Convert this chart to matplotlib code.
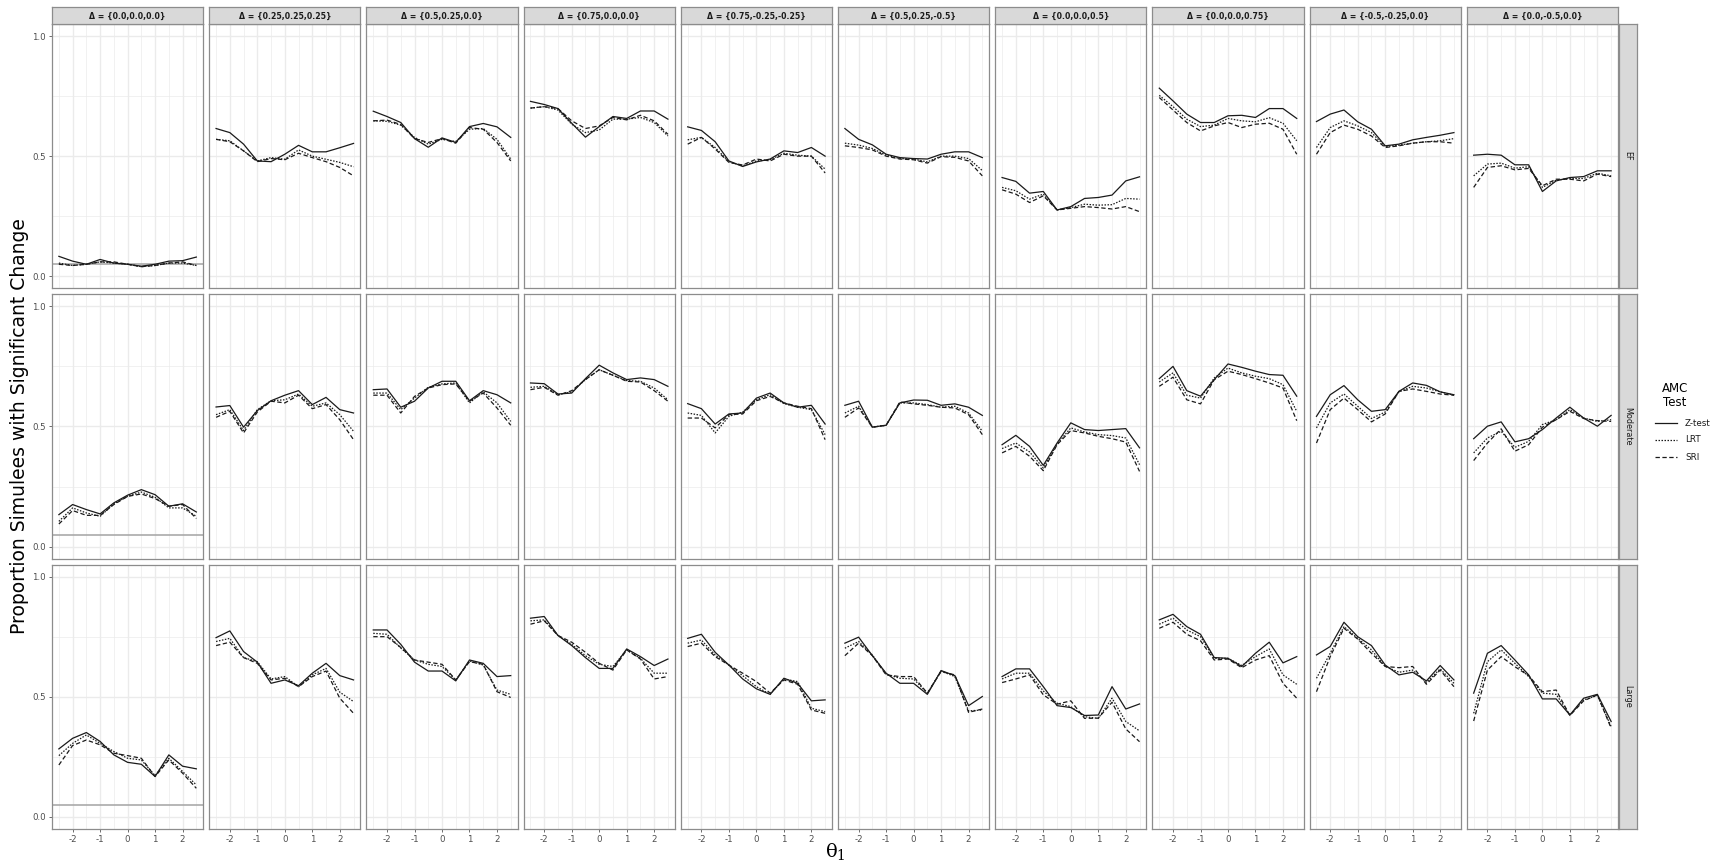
import matplotlib
matplotlib.use("Agg")
import matplotlib.pyplot as plt
from matplotlib.lines import Line2D

theta = [-2.5, -2.0, -1.5, -1.0, -0.5, 0.0, 0.5, 1.0, 1.5, 2.0, 2.5]
delta_labels = ["{0.0,0.0,0.0}", "{0.25,0.25,0.25}", "{0.5,0.25,0.0}", "{0.75,0.0,0.0}",
                "{0.75,-0.25,-0.25}", "{0.5,0.25,-0.5}", "{0.0,0.0,0.5}", "{0.0,0.0,0.75}",
                "{-0.5,-0.25,0.0}", "{0.0,-0.5,0.0}"]
row_labels = ["EF", "Moderate", "Large"]
tests = ["Z-test", "LRT", "SRI"]
alpha_level = 0.05

# ---- EF row ----
ef_z = [
    [0.083, 0.063, 0.05, 0.07, 0.055, 0.05, 0.042, 0.05, 0.063, 0.065, 0.08],
    [0.615, 0.598, 0.55, 0.48, 0.477, 0.508, 0.545, 0.518, 0.518, 0.535, 0.553],
    [0.687, 0.665, 0.64, 0.573, 0.537, 0.576, 0.557, 0.623, 0.636, 0.622, 0.578],
    [0.728, 0.715, 0.698, 0.637, 0.579, 0.623, 0.665, 0.657, 0.688, 0.688, 0.654],
    [0.622, 0.607, 0.56, 0.48, 0.457, 0.476, 0.488, 0.522, 0.515, 0.536, 0.50],
    [0.615, 0.57, 0.547, 0.508, 0.494, 0.49, 0.488, 0.508, 0.518, 0.518, 0.494],
    [0.411, 0.395, 0.346, 0.353, 0.276, 0.29, 0.324, 0.328, 0.338, 0.397, 0.414],
    [0.783, 0.73, 0.675, 0.64, 0.64, 0.668, 0.67, 0.661, 0.698, 0.698, 0.657],
    [0.644, 0.675, 0.692, 0.643, 0.612, 0.543, 0.55, 0.568, 0.578, 0.587, 0.598],
    [0.504, 0.508, 0.504, 0.464, 0.464, 0.353, 0.397, 0.411, 0.415, 0.439, 0.439],
]
ef_lrt = [
    [0.055, 0.045, 0.05, 0.06, 0.055, 0.05, 0.04, 0.045, 0.055, 0.055, 0.045],
    [0.57, 0.564, 0.522, 0.48, 0.494, 0.487, 0.526, 0.50, 0.487, 0.474, 0.456],
    [0.647, 0.645, 0.629, 0.578, 0.55, 0.57, 0.561, 0.612, 0.615, 0.57, 0.488],
    [0.70, 0.706, 0.692, 0.633, 0.598, 0.609, 0.654, 0.654, 0.661, 0.64, 0.584],
    [0.568, 0.578, 0.536, 0.477, 0.46, 0.48, 0.485, 0.512, 0.504, 0.50, 0.446],
    [0.554, 0.546, 0.532, 0.504, 0.49, 0.488, 0.476, 0.50, 0.50, 0.49, 0.44],
    [0.37, 0.356, 0.321, 0.342, 0.276, 0.286, 0.30, 0.296, 0.298, 0.324, 0.321],
    [0.753, 0.706, 0.654, 0.623, 0.629, 0.657, 0.647, 0.643, 0.66, 0.637, 0.564],
    [0.536, 0.619, 0.647, 0.626, 0.598, 0.54, 0.546, 0.554, 0.56, 0.564, 0.573],
    [0.418, 0.467, 0.471, 0.45, 0.456, 0.37, 0.40, 0.407, 0.407, 0.429, 0.418],
]
ef_sri = [
    [0.05, 0.045, 0.05, 0.06, 0.06, 0.05, 0.04, 0.045, 0.055, 0.06, 0.045],
    [0.57, 0.56, 0.522, 0.477, 0.49, 0.485, 0.512, 0.494, 0.477, 0.453, 0.418],
    [0.647, 0.65, 0.632, 0.573, 0.557, 0.573, 0.554, 0.619, 0.612, 0.557, 0.48],
    [0.70, 0.706, 0.698, 0.647, 0.615, 0.626, 0.661, 0.651, 0.67, 0.647, 0.591],
    [0.55, 0.578, 0.53, 0.474, 0.463, 0.488, 0.48, 0.508, 0.50, 0.50, 0.43],
    [0.543, 0.536, 0.526, 0.50, 0.488, 0.485, 0.471, 0.498, 0.495, 0.48, 0.418],
    [0.36, 0.342, 0.307, 0.335, 0.276, 0.283, 0.29, 0.286, 0.28, 0.29, 0.269],
    [0.744, 0.692, 0.64, 0.605, 0.626, 0.64, 0.619, 0.633, 0.637, 0.612, 0.508],
    [0.508, 0.598, 0.629, 0.612, 0.584, 0.536, 0.543, 0.554, 0.56, 0.56, 0.554],
    [0.37, 0.453, 0.46, 0.443, 0.449, 0.377, 0.404, 0.404, 0.397, 0.425, 0.415],
]

# ---- Moderate row ----
mod_z = [
    [0.133, 0.175, 0.154, 0.136, 0.182, 0.214, 0.237, 0.216, 0.168, 0.178, 0.144],
    [0.581, 0.587, 0.497, 0.566, 0.607, 0.63, 0.649, 0.591, 0.621, 0.57, 0.556],
    [0.653, 0.656, 0.58, 0.605, 0.66, 0.688, 0.688, 0.607, 0.649, 0.632, 0.598],
    [0.681, 0.678, 0.635, 0.639, 0.699, 0.755, 0.723, 0.695, 0.702, 0.695, 0.667],
    [0.595, 0.574, 0.51, 0.552, 0.556, 0.618, 0.639, 0.598, 0.58, 0.588, 0.51],
    [0.588, 0.605, 0.497, 0.505, 0.598, 0.61, 0.609, 0.588, 0.594, 0.58, 0.546],
    [0.424, 0.463, 0.417, 0.338, 0.431, 0.515, 0.487, 0.483, 0.487, 0.491, 0.411],
    [0.699, 0.75, 0.649, 0.626, 0.695, 0.76, 0.746, 0.73, 0.716, 0.713, 0.626],
    [0.542, 0.632, 0.67, 0.611, 0.563, 0.57, 0.646, 0.681, 0.671, 0.644, 0.632],
    [0.449, 0.501, 0.519, 0.436, 0.449, 0.487, 0.535, 0.58, 0.535, 0.501, 0.546],
]
mod_lrt = [
    [0.105, 0.161, 0.14, 0.126, 0.178, 0.209, 0.227, 0.205, 0.161, 0.161, 0.126],
    [0.549, 0.57, 0.483, 0.57, 0.607, 0.611, 0.635, 0.584, 0.598, 0.549, 0.48],
    [0.639, 0.639, 0.57, 0.618, 0.663, 0.677, 0.681, 0.598, 0.644, 0.598, 0.521],
    [0.663, 0.667, 0.632, 0.644, 0.695, 0.736, 0.713, 0.691, 0.688, 0.66, 0.611],
    [0.556, 0.546, 0.473, 0.542, 0.56, 0.611, 0.632, 0.595, 0.58, 0.57, 0.466],
    [0.556, 0.584, 0.497, 0.505, 0.598, 0.598, 0.591, 0.58, 0.584, 0.556, 0.48],
    [0.408, 0.431, 0.394, 0.327, 0.427, 0.494, 0.477, 0.466, 0.462, 0.452, 0.341],
    [0.685, 0.723, 0.63, 0.618, 0.702, 0.743, 0.723, 0.709, 0.699, 0.674, 0.563],
    [0.494, 0.598, 0.635, 0.584, 0.533, 0.56, 0.644, 0.667, 0.66, 0.644, 0.63],
    [0.39, 0.452, 0.48, 0.413, 0.438, 0.508, 0.528, 0.57, 0.535, 0.521, 0.528],
]
mod_sri = [
    [0.094, 0.15, 0.13, 0.13, 0.175, 0.209, 0.219, 0.20, 0.168, 0.175, 0.117],
    [0.538, 0.563, 0.473, 0.56, 0.605, 0.598, 0.63, 0.574, 0.591, 0.528, 0.445],
    [0.63, 0.63, 0.556, 0.625, 0.66, 0.674, 0.677, 0.605, 0.639, 0.577, 0.505],
    [0.653, 0.663, 0.63, 0.649, 0.695, 0.736, 0.713, 0.688, 0.685, 0.649, 0.605],
    [0.535, 0.535, 0.494, 0.549, 0.552, 0.607, 0.625, 0.598, 0.584, 0.574, 0.445],
    [0.538, 0.577, 0.497, 0.505, 0.602, 0.594, 0.588, 0.58, 0.577, 0.549, 0.466],
    [0.39, 0.417, 0.376, 0.316, 0.424, 0.483, 0.473, 0.459, 0.449, 0.435, 0.313],
    [0.667, 0.705, 0.611, 0.594, 0.695, 0.73, 0.716, 0.699, 0.681, 0.66, 0.524],
    [0.431, 0.57, 0.618, 0.57, 0.519, 0.552, 0.646, 0.656, 0.646, 0.635, 0.63],
    [0.358, 0.431, 0.49, 0.397, 0.424, 0.497, 0.528, 0.563, 0.533, 0.524, 0.521],
]

# ---- Large row ----
lg_z = [
    [0.283, 0.327, 0.351, 0.314, 0.258, 0.227, 0.219, 0.168, 0.258, 0.211, 0.20],
    [0.746, 0.774, 0.688, 0.644, 0.556, 0.57, 0.546, 0.598, 0.639, 0.588, 0.57],
    [0.778, 0.778, 0.718, 0.644, 0.607, 0.607, 0.566, 0.653, 0.639, 0.584, 0.588],
    [0.827, 0.834, 0.755, 0.713, 0.663, 0.618, 0.618, 0.699, 0.667, 0.63, 0.657],
    [0.743, 0.76, 0.685, 0.632, 0.574, 0.533, 0.51, 0.577, 0.556, 0.483, 0.487],
    [0.723, 0.748, 0.671, 0.598, 0.556, 0.556, 0.51, 0.609, 0.588, 0.463, 0.501],
    [0.584, 0.616, 0.616, 0.542, 0.463, 0.455, 0.422, 0.424, 0.542, 0.449, 0.47],
    [0.82, 0.843, 0.792, 0.76, 0.663, 0.66, 0.626, 0.681, 0.727, 0.641, 0.667],
    [0.674, 0.709, 0.81, 0.75, 0.713, 0.632, 0.591, 0.602, 0.566, 0.63, 0.57],
    [0.515, 0.681, 0.713, 0.653, 0.591, 0.491, 0.491, 0.424, 0.494, 0.51, 0.397],
]
lg_lrt = [
    [0.255, 0.306, 0.341, 0.306, 0.272, 0.244, 0.237, 0.172, 0.244, 0.189, 0.133],
    [0.73, 0.743, 0.663, 0.646, 0.574, 0.584, 0.542, 0.591, 0.618, 0.519, 0.48],
    [0.764, 0.76, 0.703, 0.653, 0.635, 0.626, 0.57, 0.649, 0.632, 0.528, 0.51],
    [0.816, 0.82, 0.755, 0.718, 0.671, 0.635, 0.626, 0.695, 0.66, 0.598, 0.598],
    [0.723, 0.736, 0.674, 0.632, 0.588, 0.542, 0.51, 0.574, 0.563, 0.452, 0.438],
    [0.702, 0.73, 0.674, 0.594, 0.577, 0.574, 0.515, 0.607, 0.584, 0.441, 0.445],
    [0.574, 0.598, 0.598, 0.524, 0.473, 0.459, 0.417, 0.41, 0.494, 0.397, 0.358],
    [0.802, 0.827, 0.778, 0.75, 0.66, 0.66, 0.63, 0.667, 0.699, 0.591, 0.552],
    [0.577, 0.681, 0.792, 0.743, 0.695, 0.626, 0.602, 0.611, 0.56, 0.616, 0.556],
    [0.431, 0.646, 0.695, 0.639, 0.584, 0.515, 0.51, 0.424, 0.487, 0.505, 0.376],
]
lg_sri = [
    [0.216, 0.297, 0.32, 0.30, 0.265, 0.255, 0.244, 0.168, 0.237, 0.182, 0.119],
    [0.713, 0.727, 0.663, 0.639, 0.57, 0.577, 0.542, 0.584, 0.607, 0.494, 0.431],
    [0.75, 0.75, 0.705, 0.653, 0.644, 0.635, 0.57, 0.646, 0.635, 0.521, 0.497],
    [0.802, 0.816, 0.755, 0.727, 0.685, 0.639, 0.611, 0.695, 0.657, 0.574, 0.584],
    [0.709, 0.723, 0.667, 0.632, 0.598, 0.563, 0.515, 0.57, 0.552, 0.445, 0.431],
    [0.671, 0.723, 0.671, 0.591, 0.584, 0.584, 0.515, 0.605, 0.591, 0.435, 0.449],
    [0.559, 0.574, 0.591, 0.508, 0.469, 0.483, 0.41, 0.411, 0.477, 0.366, 0.313],
    [0.785, 0.81, 0.76, 0.733, 0.653, 0.657, 0.621, 0.653, 0.671, 0.556, 0.494],
    [0.521, 0.667, 0.785, 0.74, 0.681, 0.626, 0.621, 0.626, 0.552, 0.611, 0.542],
    [0.399, 0.611, 0.667, 0.625, 0.588, 0.521, 0.528, 0.422, 0.483, 0.508, 0.369],
]

rows_data = [(ef_z, ef_lrt, ef_sri), (mod_z, mod_lrt, mod_sri), (lg_z, lg_lrt, lg_sri)]
styles = ["-", (0, (1.2, 1.2)), (0, (3.5, 2.0))]

W, H = 1718, 866
fig = plt.figure(figsize=(W / 100, H / 100), dpi=100)

def px_axes(x0, y0, w, h):
    return fig.add_axes([x0 / W, 1 - (y0 + h) / H, w / W, h / H])

left0, pw, gap = 52, 151.2, 6.0
top0, ph, vgap = 24, 264.3, 6.0
strip_h = 17
strip_w = 18
border_col = "#8C8C8C"
grid_col = "#EBEBEB"

for r in range(3):
    for c in range(10):
        x0 = left0 + c * (pw + gap)
        y0 = top0 + r * (ph + vgap)
        ax = px_axes(x0, y0, pw, ph)
        ax.set_xlim(-2.75, 2.75)
        ax.set_ylim(-0.05, 1.05)
        for v in [-2.5, -1.5, -0.5, 0.5, 1.5, 2.5]:
            ax.axvline(v, color=grid_col, lw=0.5, zorder=0)
        for v in [-2, -1, 0, 1, 2]:
            ax.axvline(v, color=grid_col, lw=1.0, zorder=0)
        for v in [0.25, 0.75]:
            ax.axhline(v, color=grid_col, lw=0.5, zorder=0)
        for v in [0.0, 0.5, 1.0]:
            ax.axhline(v, color=grid_col, lw=1.0, zorder=0)
        if c == 0:
            ax.axhline(alpha_level, color="#AAAAAA", lw=1.2, zorder=1)
        for k in range(3):
            ax.plot(theta, rows_data[r][k][c], color="#1A1A1A", lw=0.9,
                    linestyle=styles[k], zorder=3)
        for s in ax.spines.values():
            s.set_color(border_col)
            s.set_linewidth(0.9)
        ax.set_xticks([-2, -1, 0, 1, 2])
        ax.set_yticks([0.0, 0.5, 1.0])
        ax.tick_params(length=2.5, width=0.6, color="#555555", labelsize=6.2,
                       labelcolor="#4D4D4D", pad=2)
        if r == 2:
            ax.set_xticklabels(["-2", "-1", "0", "1", "2"])
        else:
            ax.tick_params(axis="x", length=0, labelbottom=False)
        if c == 0:
            ax.set_yticklabels(["0.0", "0.5", "1.0"])
        else:
            ax.tick_params(axis="y", length=0, labelleft=False)

        if r == 0:
            sax = px_axes(x0, top0 - strip_h, pw, strip_h)
            sax.set_facecolor("#D9D9D9")
            sax.set_xticks([]); sax.set_yticks([])
            for s in sax.spines.values():
                s.set_color(border_col); s.set_linewidth(0.9)
            sax.text(0.5, 0.45, "\u0394 = " + delta_labels[c], ha="center", va="center",
                     fontsize=5.6, fontweight="bold", color="#1A1A1A", transform=sax.transAxes)
        if c == 9:
            sax = px_axes(x0 + pw + 1, y0, strip_w, ph)
            sax.set_facecolor("#D9D9D9")
            sax.set_xticks([]); sax.set_yticks([])
            for s in sax.spines.values():
                s.set_color(border_col); s.set_linewidth(0.9)
            sax.text(0.5, 0.5, row_labels[r], ha="center", va="center", rotation=-90,
                     fontsize=5.8, color="#1A1A1A", transform=sax.transAxes)

# axis titles
fig.text(20 / W, 1 - (top0 + 1.5 * ph + vgap) / H, "Proportion Simulees with Significant Change",
         rotation=90, ha="center", va="center", fontsize=13.5, color="black")
fig.text((left0 + (10 * pw + 9 * gap) / 2) / W, 1 - 851 / H, r"$\mathrm{\theta}_1$",
         ha="center", va="center", fontsize=14, color="black", math_fontfamily="dejavuserif")

# legend
fig.text(1675 / W, 1 - 396 / H, "AMC\nTest", ha="center", va="center", fontsize=8.5,
         linespacing=1.1)
leg_y = [423, 440, 457]
lax = fig.add_axes([0, 0, 1, 1], facecolor="none")
lax.set_xlim(0, W); lax.set_ylim(H, 0); lax.axis("off")
for k in range(3):
    lax.add_line(Line2D([1655, 1677], [leg_y[k], leg_y[k]], color="#1A1A1A", lw=0.9,
                        linestyle=styles[k]))
    lax.text(1685, leg_y[k], tests[k], ha="left", va="center", fontsize=6.3, color="#1A1A1A")

fig.savefig("out.png", dpi=100)
